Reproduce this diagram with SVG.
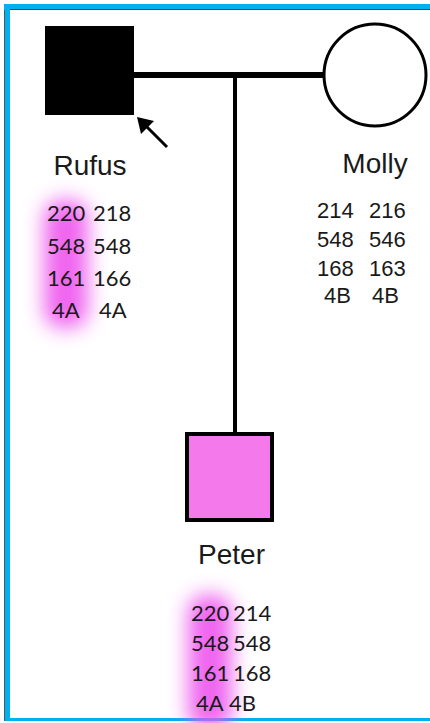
<svg xmlns="http://www.w3.org/2000/svg" width="430" height="723" viewBox="0 0 430 723">
<defs>
<filter id="glow" x="-1" y="-1" width="3" height="3"><feGaussianBlur stdDeviation="10"/></filter>
<style>
.name{font-family:"Liberation Sans",Arial,sans-serif;font-size:28px;fill:#1a1a1a;text-anchor:middle}
.num{font-family:Lato,"Open Sans",sans-serif;font-size:22px;fill:#1a1a1a}
.numA{font-family:"Liberation Sans",Arial,sans-serif;font-size:22px;fill:#1a1a1a}
.ln{stroke:#000;fill:none}
</style>
</defs>
<rect width="430" height="723" fill="#fff"/>
<g id="frame">
<rect x="4" y="4" width="426" height="6" fill="#00B0F0"/>
<rect x="4" y="4" width="6" height="717" fill="#00B0F0"/>
<rect x="4" y="718" width="426" height="3" fill="#00B0F0"/>
<line x1="4.5" y1="10" x2="4.5" y2="721" stroke="#555" stroke-width="1"/>
<line x1="10" y1="9.5" x2="430" y2="9.5" stroke="#444" stroke-width="1"/>
</g>
<g id="glows">
<rect x="44" y="200" width="44" height="128" rx="18" fill="#EE55EE" opacity="0.9" filter="url(#glow)"/>
<rect x="188" y="595" width="44" height="135" rx="18" fill="#EE55EE" opacity="0.9" filter="url(#glow)"/>
</g>
<g id="connectors">
<line class="ln" x1="134" y1="75" x2="323" y2="75" stroke-width="6"/>
<line class="ln" x1="235" y1="75" x2="235" y2="434" stroke-width="4"/>
<line class="ln" x1="167" y1="147" x2="145" y2="125" stroke-width="3"/>
<polygon points="137,117 154,121 141,134" fill="#000"/>
</g>
<g id="rufus">
<rect x="45" y="26" width="89" height="89" fill="#000"/>
<text class="name" x="90" y="175">Rufus</text>
<text class="num" x="47" y="221">220</text><text class="num" x="93" y="221">218</text>
<text class="num" x="47" y="254">548</text><text class="num" x="93" y="254">548</text>
<text class="num" x="47" y="286">161</text><text class="num" x="93" y="286">166</text>
<text class="num" x="52" y="318">4A</text><text class="num" x="99" y="318">4A</text>
</g>
<g id="molly">
<circle cx="375" cy="75" r="51" fill="#fff" stroke="#000" stroke-width="3"/>
<text class="name" x="375" y="173">Molly</text>
<text class="numA" x="317" y="218">214</text><text class="numA" x="369" y="218">216</text>
<text class="numA" x="317" y="247">548</text><text class="numA" x="369" y="247">546</text>
<text class="numA" x="317" y="276">168</text><text class="numA" x="369" y="276">163</text>
<text class="numA" x="324" y="303">4B</text><text class="numA" x="372" y="303">4B</text>
</g>
<g id="peter">
<rect x="187" y="434" width="85" height="86" fill="#F47AEC" stroke="#000" stroke-width="4"/>
<text class="name" x="231.5" y="564">Peter</text>
<text class="num" x="191" y="621">220</text><text class="num" x="233" y="621">214</text>
<text class="num" x="191" y="651">548</text><text class="num" x="233" y="651">548</text>
<text class="num" x="191" y="681">161</text><text class="num" x="233" y="681">168</text>
<text class="num" x="196" y="711">4A</text><text class="num" x="229" y="711">4B</text>
</g>
</svg>
